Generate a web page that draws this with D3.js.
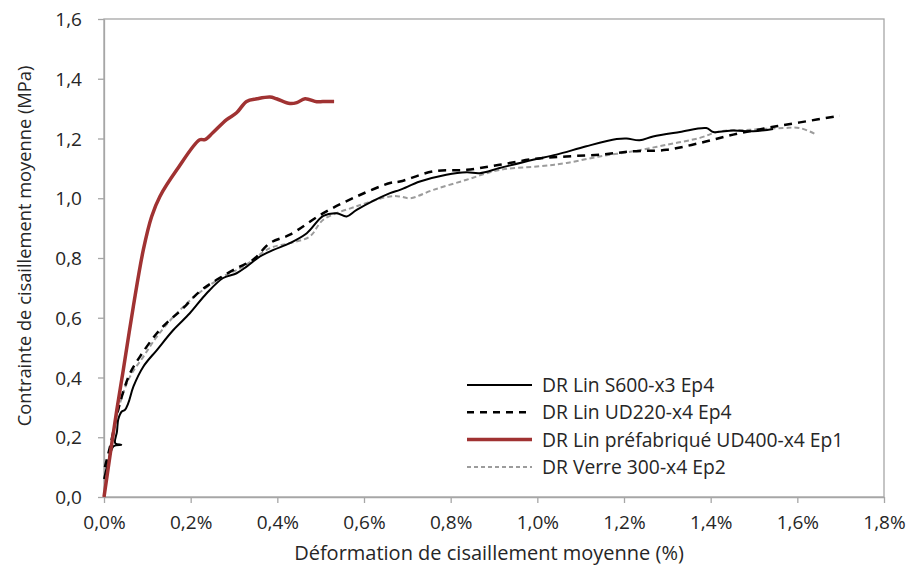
<!DOCTYPE html>
<html><head><meta charset="utf-8">
<script src="https://cdn.jsdelivr.net/npm/d3@7"></script>
<style>body{margin:0;background:#fff}svg{display:block}text{font-family:"Open Sans",sans-serif;fill:#262626}</style>
</head><body><svg id="c" width="909" height="569"></svg>
<script>
const xTicks=[0,0.2,0.4,0.6,0.8,1.0,1.2,1.4,1.6,1.8];
const yTicks=[0,0.2,0.4,0.6,0.8,1.0,1.2,1.4,1.6];
const seriesNames=["DR Lin S600-x3 Ep4","DR Lin UD220-x4 Ep4","DR Lin préfabriqué UD400-x4 Ep1","DR Verre 300-x4 Ep2"];
// strain (%) , stress (MPa)
const s600X=[0,0.012,0.022,0.04,0.026,0.03,0.033,0.041,0.048,0.056,0.068,0.091,0.122,0.160,0.198,0.237,0.275,0.306,0.329,0.360,0.391,0.429,0.468,0.506,0.537,0.560,0.583,0.660,0.683,0.729,0.790,0.837,0.867,0.913,0.990,1.044,1.113,1.183,1.206,1.236,1.267,1.329,1.390,1.406,1.452,1.498,1.544];
const s600Y=[0.06,0.13,0.17,0.175,0.18,0.22,0.26,0.286,0.291,0.314,0.370,0.437,0.492,0.559,0.615,0.682,0.733,0.749,0.771,0.805,0.827,0.850,0.883,0.941,0.950,0.939,0.961,1.017,1.028,1.056,1.079,1.087,1.084,1.101,1.129,1.146,1.174,1.198,1.200,1.194,1.207,1.222,1.235,1.222,1.227,1.224,1.232];
const ud220X=[0.002,0.014,0.029,0.041,0.060,0.083,0.122,0.152,0.175,0.221,0.260,0.306,0.344,0.383,0.429,0.506,0.583,0.660,0.683,0.760,0.837,0.913,0.990,1.067,1.144,1.221,1.298,1.375,1.452,1.529,1.606,1.698];
const ud220Y=[0.10,0.169,0.269,0.336,0.414,0.470,0.548,0.593,0.621,0.688,0.727,0.766,0.794,0.850,0.878,0.950,1.006,1.051,1.056,1.090,1.095,1.112,1.131,1.140,1.146,1.157,1.162,1.185,1.213,1.235,1.254,1.276];
const ud400X=[0,0.029,0.0445,0.0676,0.0907,0.110,0.129,0.168,0.221,0.233,0.251,0.283,0.306,0.329,0.353,0.383,0.398,0.429,0.445,0.464,0.491,0.505,0.531];
const ud400Y=[0,0.286,0.425,0.637,0.827,0.939,1.006,1.095,1.196,1.196,1.219,1.263,1.286,1.324,1.333,1.339,1.333,1.317,1.320,1.333,1.323,1.324,1.324];
const verreX=[0,0.014,0.037,0.060,0.091,0.122,0.168,0.214,0.275,0.321,0.383,0.429,0.475,0.506,0.583,0.660,0.683,0.706,0.760,0.837,0.913,1.006,1.067,1.144,1.221,1.298,1.375,1.421,1.490,1.567,1.606,1.640];
const verreY=[0,0.157,0.314,0.403,0.470,0.537,0.615,0.677,0.738,0.771,0.833,0.850,0.872,0.928,0.973,1.006,1.006,1.0,1.028,1.062,1.095,1.107,1.118,1.140,1.157,1.179,1.202,1.224,1.229,1.235,1.235,1.216];

const svg=d3.select("#c");
const L=104,R=884,T=19,B=497;
const x=d3.scaleLinear().domain([0,1.8]).range([L,R]);
const y=d3.scaleLinear().domain([0,1.6]).range([B,T]);
const fmtX=d=>d.toFixed(1).replace(".",",")+"%";
const fmtY=d=>d.toFixed(1).replace(".",",");
const axisCol="#a6a6a6";

svg.append("rect").attr("x",L).attr("y",T).attr("width",R-L).attr("height",B-T).attr("fill","none").attr("stroke",axisCol).attr("stroke-width",1.3);

const gx=svg.append("g").attr("transform",`translate(0,${B})`).call(d3.axisBottom(x).tickValues(xTicks).tickFormat(fmtX).tickSize(6).tickSizeOuter(0));
const gy=svg.append("g").attr("transform",`translate(${L},0)`).call(d3.axisLeft(y).tickValues(yTicks).tickFormat(fmtY).tickSize(6).tickSizeOuter(0));
[gx,gy].forEach(g=>{g.select(".domain").attr("stroke",axisCol).attr("stroke-width",1.3);g.selectAll(".tick line").attr("stroke",axisCol).attr("stroke-width",1.3);g.selectAll("text").attr("font-size",19).attr("font-family",null).style("fill","#262626");});
gx.selectAll("text").attr("y",32).attr("dy",0);
gy.selectAll("text").attr("x",-22).attr("dy","0.35em");

const styles=[
 {c:"#000",w:2,d:null},
 {c:"#000",w:2.5,d:"8,6"},
 {c:"#a03232",w:3.5,d:null},
 {c:"#9c9c9c",w:2,d:"5,3"}
];
const data=[d3.zip(s600X,s600Y),d3.zip(ud220X,ud220Y),d3.zip(ud400X,ud400Y),d3.zip(verreX,verreY)];
const line=d3.line().x(d=>x(d[0])).y(d=>y(d[1])).curve(d3.curveCatmullRom.alpha(0.5));
const order=[3,1,0,2];
order.forEach(i=>{
 svg.append("path").datum(data[i]).attr("d",line).attr("fill","none").attr("stroke",styles[i].c).attr("stroke-width",styles[i].w).attr("stroke-dasharray",styles[i].d).attr("stroke-linejoin","round");
});

const lg=svg.append("g");
seriesNames.forEach((n,i)=>{
 const yy=385+i*27.3;
 lg.append("line").attr("x1",467).attr("x2",532).attr("y1",yy).attr("y2",yy).attr("stroke",styles[i].c).attr("stroke-width",styles[i].w).attr("stroke-dasharray",i==1?"7,6":(i==3?"4,3":null));
 lg.append("text").attr("x",542).attr("y",yy).attr("dy","0.36em").attr("font-size",19.3).text(n);
});

svg.append("text").attr("x",489).attr("y",560).attr("text-anchor","middle").attr("font-size",20).text("Déformation de cisaillement moyenne (%)");
svg.append("text").attr("transform",`translate(31,246) rotate(-90)`).attr("text-anchor","middle").attr("font-size",18.3).text("Contrainte de cisaillement moyenne  (MPa)");
</script></body></html>
